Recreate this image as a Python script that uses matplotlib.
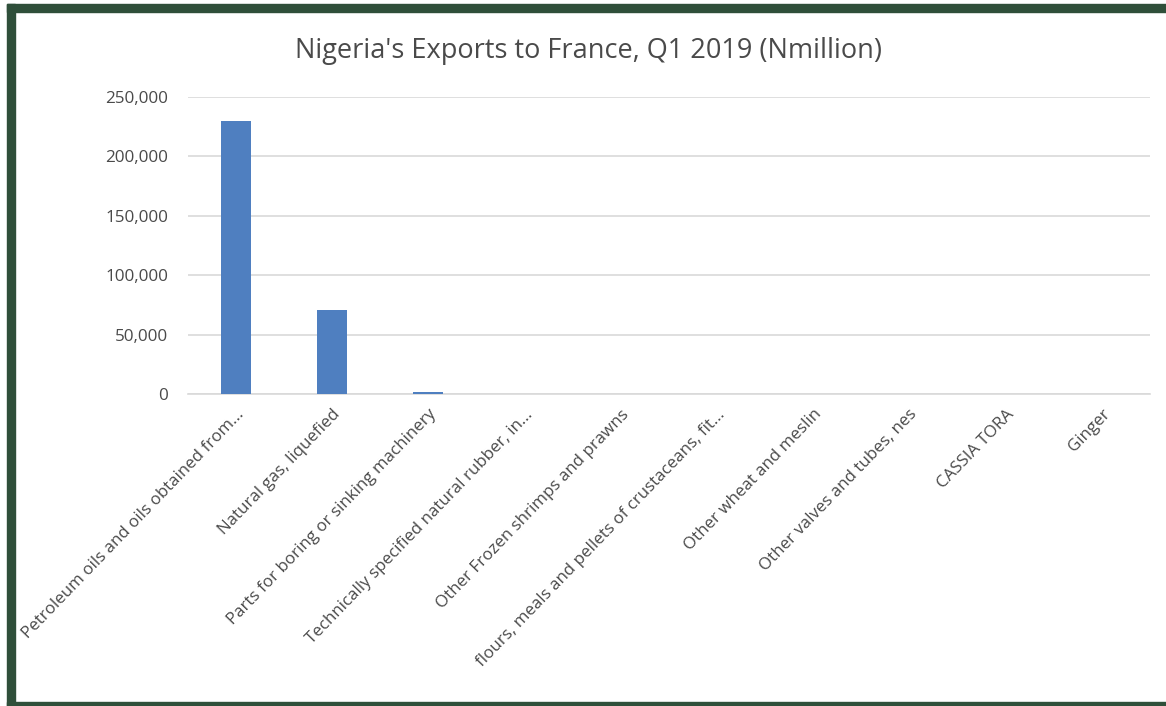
import matplotlib.pyplot as plt
from matplotlib.patches import Rectangle
from matplotlib.ticker import FuncFormatter

products = [
    "Petroleum oils and oils obtained from...",
    "Natural gas, liquefied",
    "Parts for boring or sinking machinery",
    "Technically specified natural rubber, in...",
    "Other Frozen shrimps and prawns",
    "flours, meals and pellets of crustaceans, fit...",
    "Other wheat and meslin",
    "Other valves and tubes, nes",
    "CASSIA TORA",
    "Ginger",
]
exports = [229500, 70800, 1800, 300, 150, 100, 80, 60, 40, 30]

plt.rcParams['font.family'] = ['Open Sans', 'DejaVu Sans']
text_col = '#4A4A4A'

fig = plt.figure(figsize=(11.66, 7.06), dpi=100)
ax = fig.add_axes([0.161, 0.442, 0.825, 0.4207])

x = list(range(len(products)))
ax.bar(x, exports, width=0.31, color='#4F7FC0', zorder=3)
ax.set_xlim(-0.5, len(products) - 0.5)
ax.set_ylim(0, 250000)
ax.set_yticks(range(0, 250001, 50000))
ax.yaxis.set_major_formatter(FuncFormatter(lambda v, p: f"{int(v):,}"))
ax.grid(axis='y', color='#D9D9D9', linewidth=1.2, zorder=0)
for s in ['top', 'right', 'left']:
    ax.spines[s].set_visible(False)
ax.spines['bottom'].set_color('#D9D9D9')
ax.spines['bottom'].set_linewidth(1.2)
ax.tick_params(axis='y', length=0, pad=14, labelsize=12.3, labelcolor=text_col)
ax.tick_params(axis='x', length=0, pad=9)
ax.set_xticks(x)
ax.set_xticklabels(products, rotation=46, ha='right', rotation_mode='anchor',
                   fontsize=12.2, color=text_col)

fig.text(0.505, 0.928, "Nigeria's Exports to France, Q1 2019 (Nmillion)",
         ha='center', va='center', fontsize=19.5, color=text_col)

# dark green frame
green = '#2F4F3A'
fig.patches.append(Rectangle((7 / 1166, 0), 8 / 1166, 702 / 706,
                             transform=fig.transFigure, color=green))
fig.patches.append(Rectangle((7 / 1166, 694 / 706), 1159 / 1166, 8 / 706,
                             transform=fig.transFigure, color=green))
fig.patches.append(Rectangle((7 / 1166, 0), 1159 / 1166, 4 / 706,
                             transform=fig.transFigure, color=green))

fig.savefig('out.png', dpi=100)
